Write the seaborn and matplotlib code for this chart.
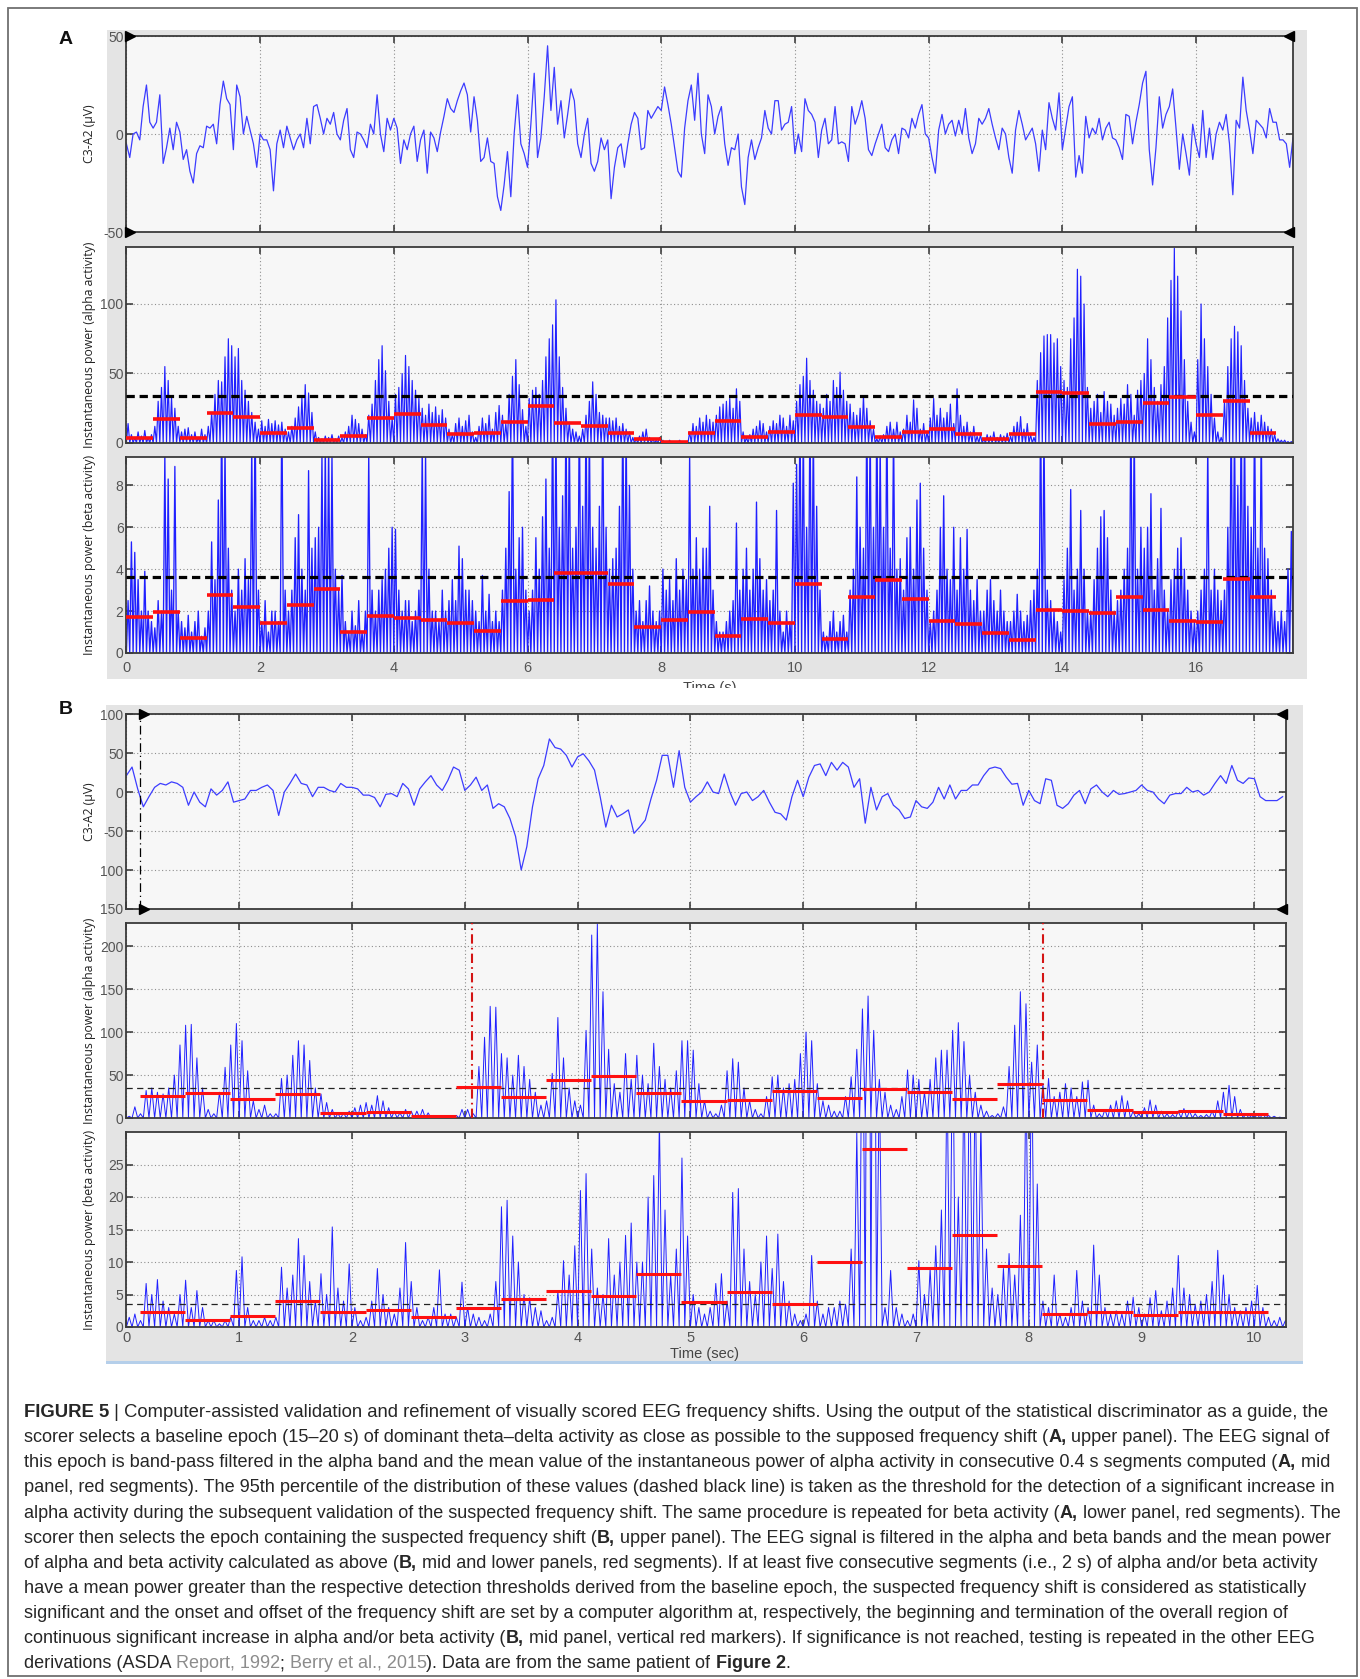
import re
import numpy as np
import matplotlib
matplotlib.use("Agg")
import matplotlib.pyplot as plt
import seaborn as sns
from matplotlib.patches import Rectangle
from matplotlib.transforms import Bbox, TransformedBbox
from matplotlib import font_manager as fm

# ---------------------------------------------------------------- data
DT = 0.05
SEG = 0.4          # length of one averaging segment (s)
A_XMAX = 17.45     # baseline epoch length shown (s)
B_XMAX = 10.28     # test epoch length shown (s)
B_SEG_START = 0.12 # first segment of the test epoch starts here (s)

# Panel A, upper: baseline EEG (uV), one value every 0.05 s
eeg_a = [
    -5, -12, 0, 1, -3, 14, 25, 6, 3, 6, 20, -15, -7, 3, -8, 6, 1, -13, -8, -19,
    -25, -10, -6, -7, 4, 3, 5, -5, 15, 27, 18, 15, -8, 25, 19, 0, 9, 2, -5, -17,
    0, -3, -3, -8, -29, -5, 2, -7, 4, -2, -8, -3, 0, -7, 8, -5, 14, 15, 8, 0,
    8, 5, 11, 0, -3, 7, 13, -8, -12, 1, 0, -3, -7, 5, 0, 20, 0, -9, 8, 2,
    8, 3, -15, -3, -8, 0, 4, -14, -3, 2, -20, 1, -2, -9, 1, 9, 18, 13, 11, 17,
    22, 26, 20, 1, 19, 7, -14, -12, -2, -14, -15, -32, -39, -26, -9, -32, 0, 20, -5, -10,
    -17, 5, 31, -12, -2, 19, 45, 12, 34, 5, 17, -2, 10, 23, 17, -5, -12, 0, 8, -15,
    -19, -14, -2, -8, -3, -33, -17, -7, -5, -17, -5, 5, 11, 8, -8, -7, 12, 8, 11, 14,
    12, 24, 15, 5, -7, -19, -22, 3, 17, 25, 7, 31, 0, -10, 20, 14, 0, 9, 14, -5,
    -16, -7, -8, 0, -27, -36, -12, -3, -13, -7, -2, 12, 3, 0, 17, 17, 2, 5, 6, 14,
    -10, 0, -9, 18, 12, 10, 6, -12, 2, 8, -5, -3, 14, -5, -4, -5, -14, 14, 5, 10,
    17, 8, -8, -11, -5, 0, 5, -7, -9, -3, 0, -10, 3, 2, -2, 8, 3, 10, 15, 0,
    -2, -12, -20, 2, 10, 0, 5, 7, -1, 7, 0, 13, -2, -10, -5, 8, 5, 8, 13, 5,
    -2, -8, 3, 0, -12, -20, 2, 12, 5, -3, 0, 3, -5, -19, 2, -8, 16, 8, 2, 21,
    -8, 3, 14, 19, -22, -11, -20, 9, -2, 3, 0, 8, -3, 3, 6, -2, -3, -7, -13, 10,
    9, -5, 6, 15, 26, 32, -8, -26, -7, 19, 3, 10, 14, 23, 3, -18, 0, -10, -21, 5,
    -5, -12, 12, -12, 3, -13, 0, 6, 2, 10, -5, -31, 7, 3, 29, 12, 2, -10, 7, 5,
    3, -2, 13, 6, 6, -3, -3, -5, -17, -2,
]

# Panel A, middle: alpha instantaneous power, one peak per 0.05 s
alpha_a_peaks = [
    14, 6, 4, 8, 5, 9, 4, 6, 12, 30, 40, 55, 45, 33, 25, 12, 8, 10, 11, 6,
    8, 4, 10, 6, 12, 22, 35, 45, 44, 62, 75, 70, 62, 68, 45, 38, 30, 22, 15, 10,
    16, 12, 17, 14, 16, 13, 15, 10, 8, 12, 18, 26, 33, 42, 36, 22, 8, 4, 3, 5,
    4, 6, 3, 5, 4, 8, 12, 20, 17, 14, 10, 6, 20, 28, 45, 60, 70, 52, 30, 18,
    35, 40, 50, 63, 55, 45, 38, 32, 25, 20, 28, 22, 26, 20, 24, 18, 10, 6, 14, 18,
    12, 16, 20, 8, 4, 12, 18, 14, 20, 10, 22, 27, 20, 14, 35, 48, 60, 42, 24, 12,
    32, 38, 40, 35, 45, 62, 75, 85, 103, 62, 40, 25, 15, 10, 8, 5, 10, 20, 30, 44,
    35, 22, 20, 18, 18, 16, 18, 12, 14, 10, 8, 4, 3, 5, 8, 10, 4, 3, 2, 4,
    2, 1, 2, 1, 1, 2, 1, 1, 8, 14, 12, 18, 15, 20, 17, 15, 20, 26, 28, 30,
    32, 25, 39, 30, 8, 4, 6, 10, 12, 16, 14, 8, 12, 16, 14, 20, 18, 12, 20, 16,
    30, 42, 48, 61, 45, 38, 30, 28, 25, 35, 30, 45, 40, 51, 38, 30, 28, 22, 20, 25,
    34, 25, 16, 10, 3, 5, 6, 12, 15, 10, 15, 8, 10, 20, 15, 31, 25, 10, 14, 8,
    18, 32, 20, 25, 18, 22, 28, 14, 39, 20, 12, 15, 8, 12, 5, 6, 3, 6, 5, 8,
    4, 6, 5, 7, 5, 12, 15, 19, 10, 14, 6, 4, 45, 65, 77, 78, 78, 72, 75, 55,
    45, 40, 75, 90, 125, 120, 100, 40, 25, 30, 35, 22, 37, 30, 28, 20, 25, 32, 28, 42,
    35, 20, 38, 45, 50, 75, 60, 40, 30, 42, 55, 90, 117, 140, 120, 95, 60, 30, 15, 8,
    60, 100, 75, 55, 35, 18, 8, 4, 30, 55, 75, 84, 80, 70, 45, 25, 18, 22, 15, 20,
    15, 12, 10, 6, 3, 2, 2, 1, 1, 0.5,
]

# Panel A, lower: beta instantaneous power, one peak per 0.05 s
beta_a_peaks = [
    2.5, 5.3, 4.8, 3.5, 2.0, 3.9, 2.0, 1.5, 1.2, 2.5, 2.0, 9.5, 8.3, 3.0, 8.9, 2.0, 1.5, 1.2, 1.8, 1.0,
    1.5, 2.0, 0.8, 1.2, 2.0, 5.3, 3.5, 7.3, 12, 10, 5.0, 3.0, 2.0, 4.0, 3.0, 4.5, 3.5, 10, 12, 3.0,
    1.5, 2.5, 1.0, 2.0, 2.0, 1.5, 12, 3.0, 2.0, 3.0, 5.5, 6.6, 4.0, 3.0, 8.7, 5.0, 5.5, 6.0, 9.5, 10,
    10, 9.5, 4.0, 3.0, 3.7, 1.5, 1.0, 2.0, 1.3, 2.5, 1.0, 2.0, 9.5, 3.0, 2.0, 3.0, 3.5, 4.0, 5.0, 6.0,
    5.9, 3.0, 2.0, 2.5, 2.5, 1.5, 2.0, 3.0, 10, 9.5, 4.0, 2.0, 2.0, 1.5, 3.0, 2.0, 2.5, 3.5, 2.5, 5.1,
    4.5, 3.0, 3.0, 2.5, 2.0, 1.5, 3.7, 2.0, 2.8, 1.5, 2.0, 1.5, 3.0, 5.0, 7.7, 12, 4.0, 5.5, 6.0, 3.0,
    2.0, 3.0, 5.5, 4.0, 6.5, 8.3, 5.0, 12, 11, 6.0, 7.5, 12, 11, 5.0, 6.0, 12, 7.0, 12, 11, 6.0,
    5.0, 7.0, 12, 6.0, 4.0, 4.5, 5.0, 7.0, 12, 11, 8.0, 4.0, 2.0, 2.5, 1.5, 2.5, 3.2, 2.0, 1.5, 2.0,
    4.0, 3.0, 3.5, 2.5, 4.5, 3.0, 4.0, 3.5, 9.5, 4.0, 5.5, 4.0, 5.0, 5.0, 7.0, 3.0, 1.5, 1.0, 1.0, 1.5,
    2.0, 2.5, 6.2, 3.0, 4.0, 5.0, 3.0, 4.0, 7.2, 4.5, 3.0, 3.5, 2.5, 3.0, 6.8, 2.0, 1.0, 2.0, 1.5, 8.1,
    9.0, 12, 11, 6.0, 12, 11, 7.0, 3.0, 1.0, 0.8, 1.5, 2.0, 1.0, 1.5, 1.8, 1.0, 3.0, 4.0, 8.4, 6.0,
    5.0, 12, 11, 6.0, 12, 10, 6.0, 12, 5.0, 11, 4.0, 4.5, 3.0, 5.5, 6.0, 4.0, 7.3, 8.1, 5.0, 3.0,
    1.5, 2.0, 3.0, 6.0, 7.5, 4.0, 3.5, 6.0, 3.0, 5.5, 4.0, 5.9, 3.0, 2.5, 3.5, 2.0, 2.0, 3.0, 3.5, 2.5,
    2.0, 3.0, 2.0, 1.5, 1.5, 2.0, 2.8, 2.0, 1.5, 1.8, 2.5, 3.0, 4.0, 12, 11, 3.0, 2.5, 2.0, 1.5, 1.0,
    3.5, 5.0, 7.8, 3.0, 4.0, 6.8, 4.0, 2.0, 2.0, 3.5, 5.0, 6.5, 6.8, 5.5, 3.0, 2.0, 2.5, 3.0, 4.0, 5.0,
    12, 11, 4.0, 6.0, 5.0, 6.0, 7.6, 3.0, 4.5, 6.9, 3.0, 2.0, 3.5, 4.0, 5.0, 5.5, 4.0, 3.0, 2.0, 1.5,
    2.0, 3.0, 4.0, 10, 3.0, 4.0, 3.0, 2.5, 3.0, 6.0, 12, 11, 8.0, 12, 11, 7.0, 6.0, 12, 5.0, 11,
    5.0, 4.5, 3.0, 2.0, 1.5, 2.0, 1.5, 4.0, 5.8, 3.0,
]

# Panel A: 0.4 s segment means and 95th-percentile thresholds
alpha_a_means = [3.6, 17.1, 3.6, 21.4, 18.5, 7.5, 11.1, 2.2, 5.3, 17.8, 20.7, 13.2,
                 6.5, 7.2, 15.4, 26.7, 14.7, 12.5, 7.2, 2.9, 0.7, 7.5, 15.6, 4.6,
                 8.2, 20.2, 18.8, 11.3, 4.6, 8.2, 10.3, 6.7, 2.9, 6.7, 36.5, 35.8,
                 13.5, 15.4, 29.1, 33.2, 20.0, 30.5, 7.5]
beta_a_means = [1.72, 1.96, 0.72, 2.75, 2.21, 1.43, 2.27, 3.05, 0.99, 1.78, 1.67,
                1.56, 1.43, 1.07, 2.50, 2.54, 3.83, 3.83, 3.29, 1.22, 1.57, 1.96,
                0.83, 1.62, 1.41, 3.29, 0.68, 2.65, 3.48, 2.59, 1.53, 1.38, 0.94,
                0.64, 2.05, 2.02, 1.92, 2.65, 2.05, 1.51, 1.48, 3.53, 2.65]
alpha_threshold = 34.1
beta_threshold = 3.64

# Panel B, upper: EEG of the epoch with the suspected shift (uV)
eeg_b = [
    21, 32, 4, -19, -6, 6, 11, 9, 13, 11, 6, -17, 0, -13, -19, 4, -4, 2, 13, -13,
    -11, -9, 2, 2, 6, 9, 2, -30, 0, 11, 23, 11, 9, -6, 6, 6, 2, 0, 11, 6,
    6, 4, -4, -4, -7, -19, -3, -2, -6, 11, 4, -17, 4, 13, 21, 9, 2, 15, 32, 28,
    2, 9, 19, 2, 9, -21, -15, -19, -34, -57, -100, -70, -19, 17, 34, 68, 57, 55, 47, 32,
    45, 49, 40, 28, -6, -45, -17, -32, -28, -23, -53, -45, -36, -9, 15, 47, 47, 6, 53, 6,
    -13, -6, 0, 13, 0, -2, 23, 0, -17, -2, 0, -11, -6, 2, -13, -26, -28, -36, -6, 15,
    -6, 19, 34, 36, 21, 38, 28, 38, 32, 6, 17, -40, 6, -23, -6, -2, -17, -23, -34, -32,
    -11, -19, -21, -13, 6, -9, 9, -9, 2, 2, 9, 9, 21, 30, 32, 30, 19, 10, 11, -17,
    2, -11, -15, 17, 15, -17, -21, -15, -4, 2, -15, 4, 9, 0, -6, 2, -3, -2, 0, 2,
    9, 2, 0, -9, -15, -4, -2, -2, 6, 0, 2, -4, 0, 11, 21, 11, 34, 15, 11, 18,
    17, -6, -11, -11, -11, -6,
]

alpha_b_peaks = [
    2, 13, 5, 32, 35, 30, 28, 35, 50, 85, 108, 109, 70, 35, 10, 5, 30, 59, 85, 110,
    90, 55, 20, 10, 15, 5, 5, 46, 50, 73, 90, 85, 67, 35, 28, 18, 10, 5, 6, 8,
    12, 15, 18, 15, 26, 20, 12, 8, 6, 10, 8, 8, 10, 6, 3, 2, 1, 2, 3, 10,
    10, 5, 60, 94, 130, 129, 75, 70, 50, 73, 60, 45, 30, 15, 20, 52, 117, 70, 35, 20,
    15, 102, 213, 226, 147, 80, 40, 30, 75, 45, 73, 50, 40, 87, 60, 45, 35, 55, 90, 90,
    79, 40, 20, 8, 5, 15, 55, 69, 65, 35, 20, 10, 5, 25, 48, 50, 35, 40, 45, 75,
    100, 90, 40, 20, 15, 8, 8, 25, 48, 80, 127, 142, 102, 45, 30, 15, 10, 25, 56, 50,
    45, 30, 45, 70, 79, 79, 102, 111, 89, 50, 30, 15, 8, 3, 5, 13, 60, 108, 147, 133,
    65, 85, 40, 46, 25, 30, 40, 35, 25, 42, 44, 15, 5, 10, 15, 20, 26, 20, 8, 5,
    12, 21, 15, 8, 5, 4, 8, 11, 8, 5, 3, 4, 8, 20, 30, 38, 25, 10, 5, 3,
    4, 5, 3, 2, 1, 0.5,
]

beta_b_peaks = [
    1.5, 2.0, 1.0, 6.7, 5.0, 7.3, 4.0, 3.0, 2.0, 5.0, 7.2, 3.0, 5.6, 3.0, 1.0, 1.0, 0.5, 1.0, 1.5, 8.7,
    10.8, 3.0, 1.0, 1.0, 1.5, 1.0, 1.5, 9.2, 6.0, 8.0, 13.6, 11, 7.0, 4.0, 8.2, 5.0, 15.4, 6.0, 4.0, 9.7,
    3.0, 1.0, 1.5, 4.0, 9.0, 5.0, 3.0, 2.0, 6.0, 13, 7.0, 3.0, 1.0, 1.5, 3.0, 8.8, 2.0, 2.0, 1.5, 6.9,
    3.0, 2.0, 1.5, 1.0, 2.0, 7.0, 18.5, 19.5, 14, 10, 5.0, 4.5, 3.0, 2.5, 1.0, 1.5, 5.5, 10.2, 8.0, 12.5,
    21, 23.6, 12, 6.0, 5.0, 13.6, 8.0, 10, 14.1, 16, 10, 10, 20, 23.3, 32, 18, 8.0, 12, 26, 14,
    5.0, 3.0, 2.0, 3.0, 6.7, 8.2, 4.0, 20.7, 21.3, 12, 7.0, 5.0, 10, 14, 9.0, 14.3, 7.0, 4.0, 2.0, 1.0,
    2.0, 11, 4.0, 2.0, 3.0, 3.0, 4.0, 3.5, 12, 30, 60, 120, 100, 40, 3.0, 8.7, 3.0, 2.0, 1.0, 2.0,
    10.2, 5.0, 9.0, 12.5, 18, 40, 50, 20, 40, 45, 40, 32, 12, 6.0, 5.0, 9.0, 11.3, 8.0, 17.2, 40,
    45, 22, 4.0, 3.0, 8.0, 2.0, 1.5, 3.0, 8.7, 4.0, 3.0, 12.6, 8.0, 3.0, 2.0, 2.5, 2.0, 4.0, 4.6, 3.0,
    2.0, 4.5, 5.6, 2.5, 4.0, 6.0, 11, 6.0, 5.0, 3.5, 4.0, 5.0, 7.0, 11.8, 8.0, 5.0, 3.0, 2.5, 3.0, 4.0,
    6.4, 3.0, 1.5, 1.0, 1.5, 1.0,
]

alpha_b_means = [26.0, 29.5, 22.1, 27.6, 5.8, 7.0, 1.9, 35.7, 24.9, 43.9, 49.3, 29.5,
                 19.4, 20.6, 31.5, 23.3, 34.2, 30.7, 22.1, 40.0, 20.6, 8.9, 6.6, 7.8, 4.7]
beta_b_means = [2.36, 1.13, 1.64, 3.94, 2.36, 2.61, 1.49, 2.97, 4.35, 5.58, 4.76, 8.09,
                3.84, 5.33, 3.48, 9.94, 27.4, 9.07, 14.09, 9.37, 2.00, 2.36, 1.90, 2.36, 2.36]
alpha_b_threshold = 34.6
beta_b_threshold = 3.59
shift_markers = [3.06, 8.13]   # onset / offset of the detected shift (s)

a_xticks = [0, 2, 4, 6, 8, 10, 12, 14, 16]
b_xticks = [0, 1, 2, 3, 4, 5, 6, 7, 8, 9, 10]
a1_yticks, a1_ylabels = [-50, 0, 50], ["-50", "0", "50"]
a2_yticks, a2_ylabels = [0, 50, 100], ["0", "50", "100"]
a3_yticks, a3_ylabels = [0, 2, 4, 6, 8], ["0", "2", "4", "6", "8"]
b1_yticks, b1_ylabels = [-150, -100, -50, 0, 50, 100], ["150", "100", "-50", "0", "50", "100"]
b2_yticks, b2_ylabels = [0, 50, 100, 150, 200], ["0", "50", "100", "150", "200"]
b3_yticks, b3_ylabels = [0, 5, 10, 15, 20, 25], ["0", "5", "10", "15", "20", "25"]

caption_lines = [
    "*FIGURE 5* | Computer-assisted validation and refinement of visually scored EEG frequency shifts. Using the output of the statistical discriminator as a guide, the",
    "scorer selects a baseline epoch (15\u201320 s) of dominant theta\u2013delta activity as close as possible to the supposed frequency shift (*A,* upper panel). The EEG signal of",
    "this epoch is band-pass filtered in the alpha band and the mean value of the instantaneous power of alpha activity in consecutive 0.4 s segments computed (*A,* mid",
    "panel, red segments). The 95th percentile of the distribution of these values (dashed black line) is taken as the threshold for the detection of a significant increase in",
    "alpha activity during the subsequent validation of the suspected frequency shift. The same procedure is repeated for beta activity (*A,* lower panel, red segments). The",
    "scorer then selects the epoch containing the suspected frequency shift (*B,* upper panel). The EEG signal is filtered in the alpha and beta bands and the mean power",
    "of alpha and beta activity calculated as above (*B,* mid and lower panels, red segments). If at least five consecutive segments (i.e., 2 s) of alpha and/or beta activity",
    "have a mean power greater than the respective detection thresholds derived from the baseline epoch, the suspected frequency shift is considered as statistically",
    "significant and the onset and offset of the frequency shift are set by a computer algorithm at, respectively, the beginning and termination of the overall region of",
    "continuous significant increase in alpha and/or beta activity (*B,* mid panel, vertical red markers). If significance is not reached, testing is repeated in the other EEG",
    "derivations (ASDA ^Report, 1992^; ^Berry et al., 2015^). Data are from the same patient of *Figure 2*.",
]
# right end of each caption line (px)
caption_line_ends = [1333, 1339, 1339, 1339, 1339, 1336, 1319, 1309, 1293, 1319, 794]

# ---------------------------------------------------------------- figure
W, H = 1360, 1679
fig = plt.figure(figsize=(W / 100, H / 100), dpi=100)
fig.patch.set_facecolor("white")
renderer = fig.canvas.get_renderer()

names = {f.name for f in fm.fontManager.ttflist}
if "Liberation Sans Narrow" in names:
    TICK_FONT, TICK_SIZE = "Liberation Sans Narrow", 11
else:
    TICK_FONT, TICK_SIZE = "Liberation Sans", 10
LABEL_FONT = "Open Sans" if "Open Sans" in names else "DejaVu Sans"
CAP_FONT = "Liberation Sans"

BLUE = "#2020ff"
RED = "#ff1010"
PANEL_GRAY = "#e4e4e4"
AX_FACE = "#f7f7f7"


def fx(x):
    return x / W


def fy(y):
    return 1 - y / H


def add_rect(x0, y0, x1, y1, **kw):
    r = Rectangle((fx(x0), fy(y1)), (x1 - x0) / W, (y1 - y0) / H,
                  transform=fig.transFigure, **kw)
    fig.add_artist(r)
    return r


def add_ax(x0, y0, x1, y1):
    return fig.add_axes([fx(x0), fy(y1), (x1 - x0) / W, (y1 - y0) / H])


def comb(peaks, dt):
    """Power trace: rises to each peak and returns to the baseline."""
    p = np.asarray(peaks, float)
    n = len(p)
    x = np.empty(2 * n + 1)
    y = np.zeros(2 * n + 1)
    x[0::2] = np.arange(n + 1) * dt
    x[1::2] = np.arange(n) * dt + dt / 2
    y[1::2] = p
    return x, y


def style(ax, xmax, ylim, yticks, ylabels, xticks, show_x, xpad=3):
    ax.set_facecolor(AX_FACE)
    ax.set_xlim(0, xmax)
    ax.set_ylim(*ylim)
    ax.set_xticks(xticks)
    ax.set_yticks(yticks)
    ax.set_yticklabels(ylabels, fontfamily=TICK_FONT, fontsize=TICK_SIZE, color="#555555")
    if show_x:
        ax.set_xticklabels([str(v) for v in xticks], fontfamily=TICK_FONT,
                           fontsize=TICK_SIZE + 0.5, color="#555555")
    else:
        ax.set_xticklabels([])
    ax.tick_params(axis="both", direction="in", length=5, width=1.1,
                   color="#333333", top=True, right=True)
    ax.tick_params(axis="y", pad=2)
    ax.tick_params(axis="x", pad=xpad)
    ax.grid(True, color="#8f8f8f", linestyle=(0, (1, 2.2)), linewidth=0.8)
    ax.set_axisbelow(True)
    for s in ax.spines.values():
        s.set_color("#3a3a3a")
        s.set_linewidth(1.3)
    ax.set_xlabel("")
    ax.set_ylabel("")


def trace(ax, x, y, lw, color=BLUE):
    sns.lineplot(x=x, y=y, ax=ax, color=color, linewidth=lw,
                 estimator=None, sort=False, legend=False)


def segments(ax, means, start, lw):
    m = np.asarray(means, float)
    s0 = start + np.arange(len(m)) * SEG
    ax.hlines(m, s0, s0 + SEG, colors=RED, linewidth=lw, zorder=5)


def cursors(ax, x_left, x_right, ylo, yhi):
    for yy in (ylo, yhi):
        ax.plot([x_left], [yy], marker=">", color="black", ms=7, clip_on=False, zorder=7)
        ax.plot([x_right], [yy], marker="<", color="black", ms=7, clip_on=False, zorder=7)


# backgrounds and frame
add_rect(8, 8, 1357, 1676, facecolor="none", edgecolor="#707070", linewidth=1.3, zorder=0)
add_rect(107, 30, 1307, 679, facecolor=PANEL_GRAY, edgecolor="none", zorder=0)
add_rect(106, 705, 1303, 1361, facecolor=PANEL_GRAY, edgecolor="none", zorder=0)
add_rect(106, 1361, 1303, 1364, facecolor="#b5cfea", edgecolor="none", zorder=0)

# ---------------------------------------------------------------- panel A
AX0, AX1 = 126.4, 1293
a1 = add_ax(AX0, 36, AX1, 232)
t_a = np.arange(len(eeg_a)) * DT
trace(a1, t_a, np.asarray(eeg_a, float), 0.9, color="#3c3cff")
style(a1, A_XMAX, (-50, 50), a1_yticks, a1_ylabels, a_xticks, False)
cursors(a1, 0.06, A_XMAX - 0.06, -50, 50)

a2 = add_ax(AX0, 247, AX1, 443)
xa, ya = comb(alpha_a_peaks, DT)
trace(a2, xa, ya, 0.85)
a2.axhline(alpha_threshold, color="black", linewidth=2.3, dashes=(2.6, 1.5), zorder=4)
segments(a2, alpha_a_means, 0.0, 2.6)
style(a2, A_XMAX, (0, 141), a2_yticks, a2_ylabels, a_xticks, False)

a3 = add_ax(AX0, 457, AX1, 653)
xb, yb = comb(beta_a_peaks, DT)
trace(a3, xb, yb, 0.95)
a3.axhline(beta_threshold, color="black", linewidth=2.3, dashes=(2.6, 1.5), zorder=4)
segments(a3, beta_a_means, 0.0, 2.6)
style(a3, A_XMAX, (0, 9.35), a3_yticks, a3_ylabels, a_xticks, True, xpad=6)

# ---------------------------------------------------------------- panel B
BX0, BX1 = 126.4, 1286
b1 = add_ax(BX0, 714, BX1, 909)
t_b = np.arange(len(eeg_b)) * DT
trace(b1, t_b, np.asarray(eeg_b, float), 0.9, color="#3c3cff")
b1.axvline(B_SEG_START, color="black", linewidth=0.9, linestyle=(0, (7, 3, 1, 3)), zorder=4)
style(b1, B_XMAX, (-150, 100), b1_yticks, b1_ylabels, b_xticks, False)
cursors(b1, B_SEG_START + 0.035, B_XMAX - 0.035, -150, 100)

b2 = add_ax(BX0, 923, BX1, 1118)
xc, yc = comb(alpha_b_peaks, DT)
trace(b2, xc, yc, 0.7)
b2.axhline(alpha_b_threshold, color="#222222", linewidth=0.9, dashes=(5, 3.5), zorder=4)
segments(b2, alpha_b_means, B_SEG_START, 2.2)
for m in shift_markers:
    b2.axvline(m, color="#d41515", linewidth=1.5, linestyle=(0, (4.5, 2, 0.8, 2)), zorder=6)
style(b2, B_XMAX, (0, 227), b2_yticks, b2_ylabels, b_xticks, False)

b3 = add_ax(BX0, 1132, BX1, 1327)
xd, yd = comb(beta_b_peaks, DT)
trace(b3, xd, yd, 0.7)
b3.axhline(beta_b_threshold, color="#222222", linewidth=0.9, dashes=(5, 3.5), zorder=4)
segments(b3, beta_b_means, B_SEG_START, 2.2)
style(b3, B_XMAX, (0, 30), b3_yticks, b3_ylabels, b_xticks, True, xpad=3)

# axis titles
fig.text(fx(704), fy(1354), "Time (sec)", ha="center", va="center",
         fontfamily=TICK_FONT, fontsize=TICK_SIZE + 0.5, color="#444444")
# the baseline panel's time title is partly hidden below the panel
t_time = fig.text(fx(710), fy(688), "Time (s)", ha="center", va="center",
                  fontfamily=TICK_FONT, fontsize=TICK_SIZE + 0.5, color="#444444")
t_time.set_clip_box(TransformedBbox(Bbox([[fx(107), fy(688)], [fx(1307), fy(640)]]),
                                    fig.transFigure))
t_time.set_clip_on(True)

# vertical axis labels, sized so the long label spans its axis height
probe = fig.text(0, 0, "Instantaneous power (alpha activity)", fontsize=10,
                 fontfamily=LABEL_FONT)
lab_size = 10 * 206 / probe.get_window_extent(renderer).width
probe.remove()
for ax_, text in [(a1, "C3-A2 (\u03bcV)"), (a2, "Instantaneous power (alpha activity)"),
                  (a3, "Instantaneous power (beta activity)"), (b1, "C3-A2 (\u03bcV)"),
                  (b2, "Instantaneous power (alpha activity)"),
                  (b3, "Instantaneous power (beta activity)")]:
    bb = ax_.get_position()
    fig.text(fx(89), (bb.y0 + bb.y1) / 2, text, rotation=90, ha="center", va="center",
             fontfamily=LABEL_FONT, fontsize=lab_size, color="#222222")

fig.text(fx(66), fy(39), "A", ha="center", va="center", fontfamily=CAP_FONT,
         fontweight="bold", fontsize=14, color="#111111")
fig.text(fx(66), fy(710), "B", ha="center", va="center", fontfamily=CAP_FONT,
         fontweight="bold", fontsize=14, color="#111111")

# ---------------------------------------------------------------- caption
TEXT_COL = "#262626"
LINK_COL = "#8c8c8c"


def parse(line):
    parts = []
    for tok in re.split(r"(\*[^*]+\*|\^[^^]+\^)", line):
        if not tok:
            continue
        if tok.startswith("*"):
            parts.append((tok[1:-1], "bold", TEXT_COL))
        elif tok.startswith("^"):
            parts.append((tok[1:-1], "normal", LINK_COL))
        else:
            parts.append((tok, "normal", TEXT_COL))
    return parts


def advance(text, weight, size):
    a = fig.text(0, 0, text + "|", fontsize=size, fontweight=weight, fontfamily=CAP_FONT)
    b = fig.text(0, 0, "|", fontsize=size, fontweight=weight, fontfamily=CAP_FONT)
    w = a.get_window_extent(renderer).width - b.get_window_extent(renderer).width
    a.remove()
    b.remove()
    return w


X0, Y0, PITCH = 24, 1417, 25.15
for i, line in enumerate(caption_lines):
    parts = parse(line)
    width12 = sum(advance(t, w, 12) for t, w, _ in parts)
    size = 12 * (caption_line_ends[i] - X0) / width12
    x = X0
    for text, weight, color in parts:
        fig.text(fx(x), fy(Y0 + i * PITCH), text, ha="left", va="baseline",
                 fontfamily=CAP_FONT, fontweight=weight, fontsize=size, color=color)
        x += advance(text, weight, size)

fig.savefig("out.png", dpi=100, facecolor="white")
